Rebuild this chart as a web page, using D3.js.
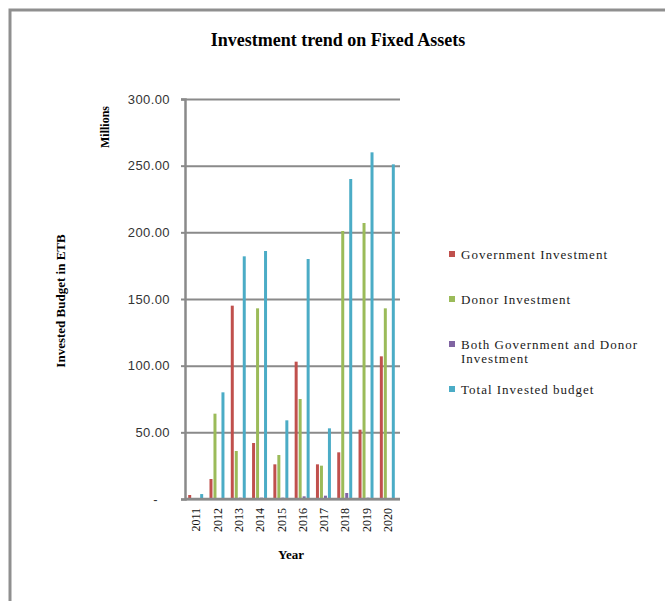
<!DOCTYPE html>
<html>
<head>
<meta charset="utf-8">
<script src="https://cdn.jsdelivr.net/npm/d3@7"></script>
<style>
  body { margin: 0; background: #fff; }
  svg { display: block; }
</style>
</head>
<body>
<div id="chart"></div>
<script>
// investment trend bar chart (millions ETB)

const years = ["2011", "2012", "2013", "2014", "2015", "2016", "2017", "2018", "2019", "2020"];
const seriesNames = ["Government Investment", "Donor Investment", "Both Government and Donor Investment", "Total Invested budget"];
const govValues = [3, 15, 145, 42, 26, 103, 26, 35, 52, 107];
const donorValues = [0.5, 64, 36, 143, 33, 75, 25, 201, 207, 143];
const bothValues = [0, 0.5, 1, 1, 1, 2, 2.5, 4.5, 1, 0.5];
const totalValues = [3.7, 80, 182, 186, 59, 180, 53, 240, 260, 251];
const yTicks = [0, 50, 100, 150, 200, 250, 300];
const colors = ["#c0504d", "#9bbb59", "#8064a2", "#4bacc6"];

const allSeries = [govValues, donorValues, bothValues, totalValues];

const width = 665, height = 601;
const plot = { left: 185, right: 400, top: 99, bottom: 499 };

const svg = d3.select("#chart").append("svg")
  .attr("width", width)
  .attr("height", height);

svg.append("rect").attr("width", width).attr("height", height).attr("fill", "#fff");

// outer frame (only top/left visible)
svg.append("rect")
  .attr("x", 10).attr("y", 10)
  .attr("width", 800).attr("height", 800)
  .attr("fill", "none")
  .attr("stroke", "#8f8f8f")
  .attr("stroke-width", 3);

// scales
const x0 = d3.scaleBand()
  .domain(years)
  .range([plot.left, plot.right - 1])
  .paddingInner(0.25)
  .paddingOuter(0.15);

const x1 = d3.scaleBand()
  .domain(d3.range(4))
  .range([0, x0.bandwidth()]);

const y = d3.scaleLinear()
  .domain([0, 300])
  .range([plot.bottom, plot.top]);

// gridlines
svg.append("g")
  .attr("transform", "translate(" + plot.left + ",0)")
  .call(d3.axisLeft(y).tickValues(yTicks).tickSize(-(plot.right - plot.left)).tickFormat(""))
  .call(g => g.select(".domain").remove())
  .call(g => g.selectAll("line").attr("stroke", "#8a8a8a").attr("stroke-width", 2));

// y axis with labels
const yAxis = svg.append("g")
  .attr("transform", "translate(" + plot.left + ",0)")
  .call(d3.axisLeft(y).tickValues(yTicks).tickSize(4).tickPadding(11)
    .tickFormat(d => d === 0 ? "-" : d.toFixed(2)));
yAxis.select(".domain").attr("stroke", "#8a8a8a").attr("stroke-width", 2.5);
yAxis.selectAll("line").attr("stroke", "#8a8a8a").attr("stroke-width", 2);
yAxis.selectAll("text")
  .style("font-family", "'Liberation Sans', Arial, sans-serif")
  .style("font-size", "13px")
  .style("letter-spacing", "0.4px")
  .style("fill", "#333")
  .attr("dx", d => d === 0 ? -12 : 0);

// bars
const groups = svg.append("g").selectAll("g")
  .data(years)
  .join("g")
  .attr("transform", d => "translate(" + x0(d) + ",0)");

groups.selectAll("rect")
  .data((d, i) => allSeries.map((s, k) => ({ k: k, v: s[i] })))
  .join("rect")
  .attr("x", d => x1(d.k))
  .attr("width", x1.bandwidth() - 1)
  .attr("y", d => y(d.v))
  .attr("height", d => plot.bottom - y(d.v))
  .attr("fill", d => colors[d.k]);

// x axis line
const xAxis = svg.append("g")
  .attr("transform", "translate(0," + plot.bottom + ")")
  .call(d3.axisBottom(x0).tickSize(0).tickPadding(0));
xAxis.select(".domain")
  .attr("d", "M" + plot.left + ",0H" + plot.right)
  .attr("stroke", "#8a8a8a").attr("stroke-width", 2.5);
xAxis.selectAll("text")
  .attr("transform", "translate(0,9) rotate(-90)")
  .attr("text-anchor", "end")
  .attr("x", 0).attr("y", 0).attr("dy", "0.35em")
  .style("font-family", "'Liberation Serif', 'Times New Roman', serif")
  .style("font-size", "12px")
  .style("fill", "#111");

// title + axis titles
const serif = "'Liberation Serif', 'Times New Roman', serif";
svg.append("text")
  .attr("x", 338).attr("y", 46)
  .attr("text-anchor", "middle")
  .style("font-family", serif).style("font-weight", "bold").style("font-size", "18px")
  .text("Investment trend on Fixed Assets");

svg.append("text")
  .attr("x", 291).attr("y", 559)
  .attr("text-anchor", "middle")
  .style("font-family", serif).style("font-weight", "bold").style("font-size", "13px")
  .text("Year");

svg.append("text")
  .attr("transform", "translate(109,127) rotate(-90)")
  .attr("text-anchor", "middle")
  .style("font-family", serif).style("font-weight", "bold").style("font-size", "12px")
  .text("Millions");

svg.append("text")
  .attr("transform", "translate(65,301) rotate(-90)")
  .attr("text-anchor", "middle")
  .style("font-family", serif).style("font-weight", "bold").style("font-size", "13px")
  .text("Invested Budget in ETB");

// legend
const legendY = [254, 299, 344, 389];
const legend = svg.append("g").selectAll("g")
  .data(seriesNames)
  .join("g")
  .attr("transform", (d, i) => "translate(449," + legendY[i] + ")");

legend.append("rect")
  .attr("x", 0).attr("y", -3)
  .attr("width", 6).attr("height", 6)
  .attr("fill", (d, i) => colors[i]);

legend.each(function (d) {
  const t = d3.select(this).append("text")
    .attr("x", 12).attr("y", 0).attr("dy", "0.35em")
    .style("font-family", serif).style("font-size", "13px")
    .style("letter-spacing", "1px")
    .style("fill", "#1a1a1a");
  if (d.startsWith("Both")) {
    t.append("tspan").attr("x", 12).text("Both Government and Donor");
    t.append("tspan").attr("x", 12).attr("dy", "1.1em").text("Investment");
  } else {
    t.text(d);
  }
});
</script>
</body>
</html>
